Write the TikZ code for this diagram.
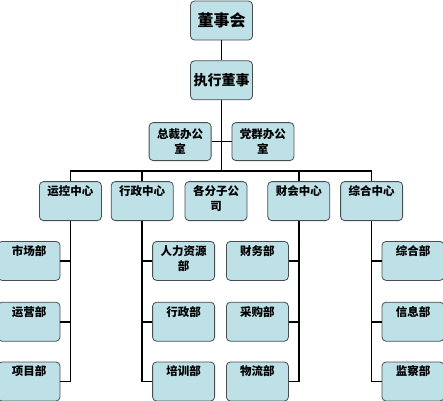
\documentclass[tikz,border=0pt]{standalone}
\usepackage{fontspec}
\setmainfont{Noto Sans CJK SC}
\usetikzlibrary{positioning}
\definecolor{orgfill}{RGB}{190,225,231}
\definecolor{orgedge}{RGB}{70,78,80}
\tikzset{every picture/.style={line width=0.75pt}}
\tikzset{
  orgbox/.style  ={rectangle, rounded corners=4pt, draw=orgedge, fill=orgfill, line width=0.8pt,
                   minimum width=62pt, minimum height=39pt, inner sep=0pt, align=center},
  orghead/.style ={orgbox, font=\fontsize{16}{18}\selectfont\bfseries},
  orgexec/.style ={orgbox, font=\fontsize{14}{16}\selectfont\bfseries},
  orgunit/.style ={orgbox, font=\fontsize{11.5}{15}\selectfont\bfseries},
  orgline/.style ={draw=black, line width=1.6pt},
}
% text set from the top of the box
\newcommand{\toptxt}[1]{\parbox[c][31pt][t]{60pt}{\centering #1}}

\begin{document}
\begin{tikzpicture}[x=1pt, y=1pt, node distance=20pt and 10pt]
        \useasboundingbox (0,0) rectangle (443,-400);
        % top
        \node[orghead] (dsh) at (221.5,-20.5) {董事会};
        \node[orgexec, below=of dsh] (zx) {执行董事};
        \node[orgunit, minimum height=38pt, below left=22pt and 10pt of zx.south] (zc) {总裁办公\\室};
        \node[orgunit, minimum height=38pt, below right=22pt and 10pt of zx.south] (dq) {党群办公\\室};
        \coordinate[below=71pt of zx.south] (bus);
        \draw[orgline] (dsh) -- (zx);
        \draw[orgline] (zx) -- (bus);
        \draw[orgline] (zc) -- (dq);
        % centres
        \node[orgunit, below=10pt of bus, xshift=-5.5pt] (gfs) {\toptxt{各分子公\\司}};
        \node[orgunit, left=11pt of gfs] (xz) {\toptxt{行政中心}};
        \node[orgunit, left=9pt of xz] (yk) {\toptxt{运控中心}};
        \node[orgunit, right=20pt of gfs] (ck) {\toptxt{财会中心}};
        \node[orgunit, right=10pt of ck] (zh) {\toptxt{综合中心}};
        \draw[orgline] (yk.north) -- (yk.north |- bus) -- (zh.north |- bus) -- (zh.north);
        \draw[orgline] (xz.north) -- (xz.north |- bus);
        \draw[orgline] (ck.north) -- (ck.north |- bus);
        % departments
        \node[orgunit, below left=20pt and 10pt of yk.south] (sc) {\toptxt{市场部}};
        \node[orgunit, below=21pt of sc] (yy) {\toptxt{运营部}};
        \node[orgunit, below=20pt of yy] (xm) {\toptxt{项目部}};
        \node[orgunit, below right=20pt and 10pt of xz.south] (rl) {\toptxt{人力资源\\部}};
        \node[orgunit, below=21pt of rl] (xzb) {\toptxt{行政部}};
        \node[orgunit, below=20pt of xzb] (px) {\toptxt{培训部}};
        \node[orgunit, below left=20pt and 10pt of ck.south] (cw) {\toptxt{财务部}};
        \node[orgunit, below=21pt of cw] (cg) {\toptxt{采购部}};
        \node[orgunit, below=20pt of cg] (wl) {\toptxt{物流部}};
        \node[orgunit, below right=20pt and 10pt of zh.south] (zhb) {\toptxt{综合部}};
        \node[orgunit, below=21pt of zhb] (xx) {\toptxt{信息部}};
        \node[orgunit, below=20pt of xx] (jc) {\toptxt{监察部}};
        \draw[orgline] (yk) |- (xm);
        \draw[orgline] (sc) -- (sc -| yk);
        \draw[orgline] (yy) -- (yy -| yk);
        \draw[orgline] (xz) |- (px);
        \draw[orgline] (rl) -- (rl -| xz);
        \draw[orgline] (xzb) -- (xzb -| xz);
        \draw[orgline] (ck) |- (wl);
        \draw[orgline] (cw) -- (cw -| ck);
        \draw[orgline] (cg) -- (cg -| ck);
        \draw[orgline] (zh) |- (jc);
        \draw[orgline] (zhb) -- (zhb -| zh);
        \draw[orgline] (xx) -- (xx -| zh);
    \end{tikzpicture}
\end{document}
